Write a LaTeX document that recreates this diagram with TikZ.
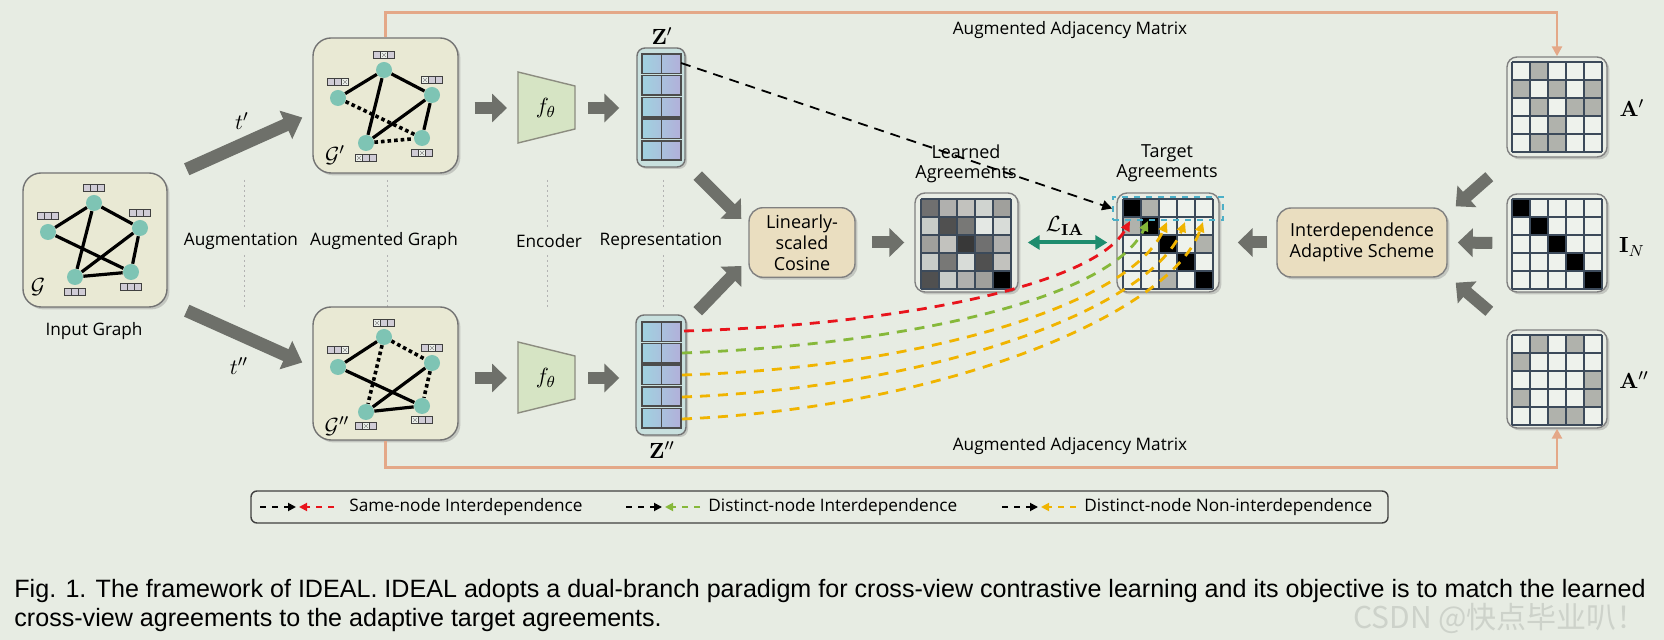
\documentclass[tikz,border=0pt]{standalone}
\usepackage[no-math]{fontspec}
\setmainfont{Open Sans}
\newfontfamily\capfont{Liberation Sans}
\newfontfamily\cjkfont{Noto Sans CJK SC}
\usepackage{amsmath,amssymb}
\usetikzlibrary{arrows.meta,shadows,calc}

\definecolor{bg}{RGB}{231,236,227}
\definecolor{gbox}{RGB}{233,233,212}
\definecolor{gnodec}{RGB}{126,196,180}
\definecolor{barfill}{RGB}{208,204,214}
\definecolor{arrowgray}{RGB}{110,112,106}
\definecolor{encfill}{RGB}{214,228,196}
\definecolor{encdraw}{RGB}{140,140,128}
\definecolor{repfill}{RGB}{200,224,222}
\definecolor{cella}{RGB}{160,210,224}
\definecolor{cellb}{RGB}{178,176,218}
\definecolor{procfill}{RGB}{234,222,192}
\definecolor{matfill}{RGB}{233,237,229}
\definecolor{mw}{RGB}{238,242,236}
\definecolor{mg}{RGB}{176,178,172}
\definecolor{gridc}{RGB}{60,74,90}
\definecolor{augc}{RGB}{228,168,136}
\definecolor{liac}{RGB}{30,140,110}
\definecolor{cyanc}{RGB}{76,176,200}
\definecolor{redc}{RGB}{232,20,28}
\definecolor{greenc}{RGB}{134,184,58}
\definecolor{orangec}{RGB}{240,180,0}
\definecolor{wmc}{RGB}{205,210,202}
\definecolor{ga}{HTML}{707070}
\definecolor{gb}{HTML}{B0B0AE}
\definecolor{gc}{HTML}{C2C2BE}
\definecolor{gd}{HTML}{D0D4D0}
\definecolor{ge}{HTML}{A0A09C}
\definecolor{gf}{HTML}{C8CCC8}
\definecolor{gg}{HTML}{505050}
\definecolor{gh}{HTML}{787876}
\definecolor{gi}{HTML}{E4E8E4}
\definecolor{gj}{HTML}{D8DCD8}
\definecolor{gk}{HTML}{383838}

\newcommand{\dfont}{\fontsize{8.6}{10.2}\selectfont}
\newcommand{\mfont}{\fontsize{11}{13}\selectfont}

\newcommand{\fbar}[3]{%
  \fill[barfill] (#1-10.5,#2-3.5) rectangle (#1+10.5,#2+3.5);
  \ifnum#3>0
    \fill[mw] (#1-17.5+7*#3,#2-3.5) rectangle (#1-10.5+7*#3,#2+3.5);
    \draw[black!45, line width=0.3pt] (#1-16+7*#3,#2-2) -- (#1-12+7*#3,#2+2) (#1-16+7*#3,#2+2) -- (#1-12+7*#3,#2-2);
  \fi
  \draw[black!75, line width=0.6pt] (#1-10.5,#2-3.5) rectangle (#1+10.5,#2+3.5) (#1-3.5,#2-3.5) -- (#1-3.5,#2+3.5) (#1+3.5,#2-3.5) -- (#1+3.5,#2+3.5);
}

\newcommand{\matgrid}[4]{%
  \foreach \MGc [count=\MGi from 0] in {#4} {%
    \pgfmathtruncatemacro{\MGr}{floor(\MGi/5)}%
    \pgfmathtruncatemacro{\MGk}{mod(\MGi,5)}%
    \fill[\MGc] ({#1+\MGk*#3},{#2+\MGr*#3}) rectangle ++(#3,#3);
  }
  \foreach \MGl in {0,...,5} {%
    \draw[gridc, line width=0.75pt] ({#1+\MGl*#3},#2) -- ++(0,5*#3);
    \draw[gridc, line width=0.75pt] (#1,{#2+\MGl*#3}) -- ++(5*#3,0);
  }
}

\tikzset{
  graphbox/.style={draw=black!55, line width=0.7pt, fill=gbox, rounded corners=9pt,
    drop shadow={shadow xshift=1.2pt, shadow yshift=-1.2pt, opacity=0.35}},
  gnode/.style={circle, fill=gnodec, minimum size=8pt, inner sep=0pt},
  gedge/.style={line width=1.6pt, black},
  gdot/.style={line width=1.8pt, black, dash pattern=on 1.8pt off 1.5pt},
  blockarrow/.style={draw=arrowgray, line width=6pt, -{Triangle[length=7.5pt,width=14pt]}},
  bigarrow/.style={draw=arrowgray, line width=6.5pt, -{Triangle[length=9pt,width=15pt]}},
  repbox/.style={draw=black!55, line width=0.7pt, fill=repfill, rounded corners=4pt,
    drop shadow={shadow xshift=1pt, shadow yshift=-1pt, opacity=0.35}},
  procbox/.style={draw=black!50, line width=0.7pt, fill=procfill, rounded corners=7pt, align=center,
    font=\fontsize{9}{10.6}\selectfont,
    drop shadow={shadow xshift=1.2pt, shadow yshift=-1.2pt, opacity=0.35}},
  matbox/.style={draw=black!50, line width=0.7pt, fill=matfill, rounded corners=5pt,
    drop shadow={shadow xshift=1.2pt, shadow yshift=-1.2pt, opacity=0.35}},
  sepln/.style={black!30, line width=0.5pt, dash pattern=on 1pt off 1.5pt},
  sublabel/.style={fill=bg, inner sep=2pt},
  augline/.style={augc, line width=1.3pt, -{Triangle[length=5pt,width=5pt]}},
  blkdash/.style={black, line width=0.9pt, dash pattern=on 5pt off 3.5pt, -{Triangle[length=5pt,width=5pt]}},
  coldash/.style={line width=1.4pt, dash pattern=on 5pt off 4pt, -{Triangle[length=5pt,width=4.5pt]}},
  lia/.style={liac, line width=2pt, {Triangle[length=6pt,width=7pt]}-{Triangle[length=6pt,width=7pt]}},
  legsym/.style={line width=0.9pt, dash pattern=on 3pt off 3pt, -{Triangle[length=4pt,width=4pt]}},
  every node/.style={font=\dfont}
}

\begin{document}
\begin{tikzpicture}[x=0.5pt,y=-0.5pt]
\fill[bg] (0,0) rectangle (1664,640);
\useasboundingbox (0,0) rectangle (1664,640);

% separators and sub-labels
\foreach \sx in {244,387,547,663} \draw[sepln] (\sx,180) -- (\sx,308);
\node[sublabel] (lab1) at (241,241) {Augmentation};
\node[sublabel] (lab2) at (384,241) {Augmented Graph};
\node[sublabel] (lab3) at (549,241) {Encoder};
\node[sublabel] (lab4) at (661,241) {Representation};

% graph boxes
\node[graphbox, minimum width=72pt, minimum height=67pt] (gin) at (95,240) {};
\node[graphbox, minimum width=72.5pt, minimum height=67.5pt] (gp) at (385.5,105.5) {};
\node[graphbox, minimum width=72.5pt, minimum height=66.5pt] (gpp) at (385.5,373.5) {};
\node (lin) at (94,331) {Input Graph};

% input graph
\node[gnode] (n1) at (94,203) {};
\node[gnode] (n2) at (48,232) {};
\node[gnode] (n3) at (140,228) {};
\node[gnode] (n4) at (75,277) {};
\node[gnode] (n5) at (131,272) {};
\draw[gedge] (n2) -- (n1) (n1) -- (n3) (n1) -- (n4) (n2) -- (n5) (n3) -- (n4) (n3) -- (n5) (n4) -- (n5);
\fbar{94}{188}{0}\fbar{48}{216}{0}\fbar{140}{213}{0}\fbar{75}{292}{0}\fbar{131}{287}{0}
\node (gl1) at (38,287) {\mfont$\mathcal{G}$};

% G'
\node[gnode] (p1) at (384,70) {};
\node[gnode] (p2) at (338,98) {};
\node[gnode] (p3) at (432,95) {};
\node[gnode] (p4) at (366,143) {};
\node[gnode] (p5) at (422,138) {};
\draw[gedge] (p2) -- (p1) (p1) -- (p3) (p1) -- (p4) (p3) -- (p4) (p3) -- (p5);
\draw[gdot] (p2) -- (p5) (p4) -- (p5);
\fbar{384}{55}{2}\fbar{338}{82}{3}\fbar{432}{80}{1}\fbar{366}{158}{1}\fbar{422}{153}{2}
\node (gl2) at (335,155) {\mfont$\mathcal{G}'$};

% G''
\node[gnode] (q1) at (384,337) {};
\node[gnode] (q2) at (338,367) {};
\node[gnode] (q3) at (432,363) {};
\node[gnode] (q4) at (366,412) {};
\node[gnode] (q5) at (422,406) {};
\draw[gedge] (q2) -- (q1) (q3) -- (q4) (q2) -- (q5) (q4) -- (q5);
\draw[gdot] (q1) -- (q3) (q1) -- (q4) (q3) -- (q5);
\fbar{384}{323}{1}\fbar{338}{350}{3}\fbar{432}{348}{2}\fbar{366}{426}{2}\fbar{422}{420}{1}
\node (gl3) at (337,426) {\mfont$\mathcal{G}''$};

% augmentation arrows
\draw[bigarrow] ($(gin.north east)+(19,-3)$) -- ($(gp.west)+(-10,12)$);
\draw[bigarrow] ($(gin.south east)+(19,3)$) -- ($(gpp.west)+(-10,-11)$);
\node (tp) at (242,121) {\mfont$t'$};
\node (tpp) at (239,366) {\mfont$t''$};

% encoders
\draw[fill=encfill, draw=encdraw, line width=0.7pt] (518,72) -- (575,86) -- (575,129) -- (518,143) -- cycle;
\draw[fill=encfill, draw=encdraw, line width=0.7pt] (518,342) -- (575,356) -- (575,399) -- (518,413) -- cycle;
\node (enc1) at (546,108) {\mfont$f_\theta$};
\node (enc2) at (546,378) {\mfont$f_\theta$};
\coordinate (e1w) at (518,108); \coordinate (e1e) at (575,108);
\coordinate (e2w) at (518,378); \coordinate (e2e) at (575,378);

% representations
\node[repbox, minimum width=24pt, minimum height=59.5pt] (zp) at (661,107.5) {};
\node[repbox, minimum width=25pt, minimum height=60pt] (zpp) at (661,375) {};
\foreach \k in {0,...,4} {
  \pgfmathsetmacro\ya{54+21.7*\k}
  \pgfmathsetmacro\yb{322+21.6*\k}
  \shade[left color=cella, right color=cellb] (642,\ya) rectangle (681,\ya+19.5);
  \draw[black!70, line width=0.8pt] (642,\ya) rectangle (681,\ya+19.5) (661.5,\ya) -- (661.5,\ya+19.5);
  \shade[left color=cella, right color=cellb] (642,\yb) rectangle (681,\yb+19.5);
  \draw[black!70, line width=0.8pt] (642,\yb) rectangle (681,\yb+19.5) (661.5,\yb) -- (661.5,\yb+19.5);
}
\node (zpl) at (662,36) {\mfont$\mathbf{Z}'$};
\node (zppl) at (662,450) {\mfont$\mathbf{Z}''$};

% flow arrows
\draw[blockarrow] ($(gp.east|-e1w)+(16,0)$) -- ($(e1w)+(-11,0)$);
\draw[blockarrow] ($(gpp.east|-e2w)+(16,0)$) -- ($(e2w)+(-11,0)$);
\draw[blockarrow] ($(e1e)+(13,0)$) -- ($(zp.west|-e1e)+(-17,0)$);
\draw[blockarrow] ($(e2e)+(13,0)$) -- ($(zpp.west|-e2e)+(-16,0)$);

% cosine
\node[procbox, minimum width=53pt, minimum height=34.5pt] (cos) at (802,242.5) {Linearly-\\scaled\\Cosine};
\draw[blockarrow] ($(zp.south east)+(12,8)$) -- ($(cos.north west)+(-7,12)$);
\draw[blockarrow] ($(zpp.north east)+(11,-3)$) -- ($(cos.south west)+(-7,-12)$);

% learned matrix
\node[matbox, minimum width=51.5pt, minimum height=49.5pt] (lrn) at (966.5,242.5) {};
\matgrid{921}{199}{18}{ga,gb,gc,gd,ge, gf,gg,gh,gi,gj, ge,gc,gk,ga,gb, gf,gh,gj,gg,gc, gg,gf,gb,ge,black}
\draw[blockarrow] ($(cos.east)+(16,0)$) -- ($(lrn.west)+(-10,0)$);
\node[align=center, font=\fontsize{9}{10.2}\selectfont] (llab) at (966,164) {Learned\\Agreements};

% target matrix
\node[matbox, minimum width=51pt, minimum height=49.5pt] (tgt) at (1168,242.5) {};
\matgrid{1123}{199}{18}{black,mg,mw,mw,mw, mg,black,mw,mw,mw, mw,mw,black,mw,mg, mw,mw,mw,black,mw, mw,mw,mg,mw,black}
\node[align=center, font=\fontsize{9}{10.2}\selectfont] (tlab) at (1167,163) {Target\\Agreements};
\node[draw=cyanc, line width=0.8pt, dashed, minimum width=55pt, minimum height=11.5pt, inner sep=0pt] (trow) at (1168,208.5) {};

% L_IA
\draw[lia, shorten <=4.5pt, shorten >=4.5pt] (lrn) -- (tgt);
\node (lial) at (1065,226) {\mfont$\mathcal{L}_{\mathbf{IA}}$};

% scheme
\node[procbox, minimum width=85pt, minimum height=34.5pt] (sch) at (1362,242.5) {Interdependence\\Adaptive Scheme};
\draw[blockarrow] ($(sch.west)+(-9,0)$) -- ($(tgt.east)+(18,0)$);

% right matrices
\node[matbox, minimum width=50pt, minimum height=50pt] (ap) at (1557,107) {};
\matgrid{1512}{62}{18}{mw,mg,mw,mw,mw, mg,mw,mg,mw,mg, mw,mg,mw,mg,mg, mw,mw,mg,mw,mw, mw,mg,mg,mw,mw}
\node[matbox, minimum width=50pt, minimum height=49pt] (in) at (1557,243) {};
\matgrid{1512}{199}{18}{black,mw,mw,mw,mw, mw,black,mw,mw,mw, mw,mw,black,mw,mw, mw,mw,mw,black,mw, mw,mw,mw,mw,black}
\node[matbox, minimum width=50pt, minimum height=49pt] (app) at (1557,379) {};
\matgrid{1512}{335}{18}{mw,mg,mw,mg,mw, mg,mw,mw,mw,mw, mw,mw,mw,mw,mg, mg,mw,mw,mw,mg, mw,mw,mg,mg,mw}
\node (apl) at (1632,108) {\mfont$\mathbf{A}'$};
\node (inl) at (1632,247) {\mfont$\mathbf{I}_N$};
\node (appl) at (1634,380) {\mfont$\mathbf{A}''$};
\draw[blockarrow] ($(ap.south west)+(-17,19)$) -- ($(sch.north east)+(8,-1)$);
\draw[blockarrow] ($(in.west)+(-14,0)$) -- ($(sch.east)+(10,0)$);
\draw[blockarrow] ($(app.north west)+(-17,-18)$) -- ($(sch.south east)+(8,5)$);

% augmented adjacency lines
\draw[augline] (gp.north) -- ++(0,-25) -| (ap.north);
\draw[augline] (gpp.south) -- ++(0,27) -| (app.south);
\node (augt) at (1070,30) {Augmented Adjacency Matrix};
\node (augb) at (1070,446) {Augmented Adjacency Matrix};

% dashed correspondences
\coordinate (zpa) at (681,63);
\coordinate (zqa) at (684,331);
\coordinate (zqb) at (682,353);
\coordinate (zqc) at (682,375);
\coordinate (zqd) at (682,397);
\coordinate (zqe) at (682,419);
\coordinate (ta) at (1130,221);
\coordinate (tb) at (1148,221);
\coordinate (tc) at (1167,222);
\coordinate (td) at (1185,222);
\coordinate (te) at (1203,222);
\draw[blkdash] (zpa) -- (trow.west);
\draw[coldash, redc] (zqa) .. controls (900,325) and (1095,285) .. (ta);
\draw[coldash, greenc] (zqb) .. controls (900,345) and (1110,300) .. (tb);
\draw[coldash, orangec] (zqc) .. controls (920,368) and (1130,305) .. (tc);
\draw[coldash, orangec] (zqd) .. controls (930,388) and (1150,310) .. (td);
\draw[coldash, orangec] (zqe) .. controls (940,408) and (1170,315) .. (te);

% legend
\node[draw=black!75, line width=0.7pt, rounded corners=3pt, minimum width=568.5pt, minimum height=16pt] (leg) at (819.5,507) {};
\coordinate (s1a) at (260,507); \coordinate (s1b) at (296,507); \coordinate (s1c) at (334,507); \coordinate (s1d) at (299,507);
\coordinate (s2a) at (626,507); \coordinate (s2b) at (662,507); \coordinate (s2c) at (700,507); \coordinate (s2d) at (665,507);
\coordinate (s3a) at (1002,507); \coordinate (s3b) at (1038,507); \coordinate (s3c) at (1076,507); \coordinate (s3d) at (1041,507);
\draw[legsym, black] (s1a) -- (s1b);
\draw[legsym, redc] (s1c) -- (s1d);
\draw[legsym, black] (s2a) -- (s2b);
\draw[legsym, greenc] (s2c) -- (s2d);
\draw[legsym, black] (s3a) -- (s3b);
\draw[legsym, orangec] (s3c) -- (s3d);
\node[anchor=west, inner sep=0pt] (lt1) at (349,507) {Same-node Interdependence};
\node[anchor=west, inner sep=0pt] (lt2) at (708,507) {Distinct-node Interdependence};
\node[anchor=west, inner sep=0pt] (lt3) at (1084,507) {Distinct-node Non-interdependence};

% caption
\node[anchor=west, inner sep=0pt, font=\capfont\fontsize{12.55}{14}\selectfont] (cap1) at (14,591) {Fig. 1. The framework of IDEAL. IDEAL adopts a dual-branch paradigm for cross-view contrastive learning and its objective is to match the learned};
\node[anchor=west, inner sep=0pt, font=\capfont\fontsize{12.55}{14}\selectfont] (cap2) at (14,620) {cross-view agreements to the adaptive target agreements.};
\node[text=wmc, font=\cjkfont\fontsize{15}{15}\selectfont, inner sep=0pt] (wm) at (1500,618) {CSDN @快点毕业叭！};
\end{tikzpicture}
\end{document}
